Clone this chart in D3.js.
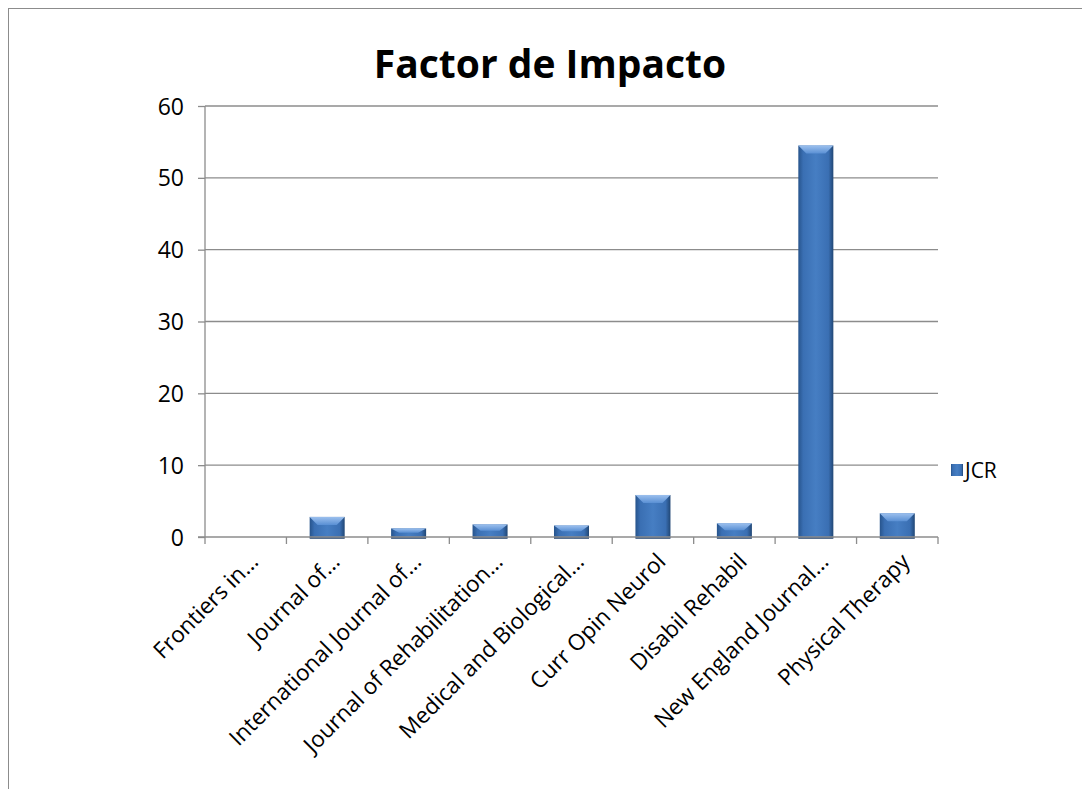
<!DOCTYPE html>
<html>
<head>
<meta charset="utf-8">
<script src="https://cdn.jsdelivr.net/npm/d3@7"></script>
<style>
  body { margin: 0; background: #fff; }
  text { font-family: "Open Sans", sans-serif; fill: #000; }
</style>
</head>
<body>
<div id="chart"></div>
<script>
const categorias = ["Frontiers in…", "Journal of…", "International Journal of…", "Journal of Rehabilitation…",
    "Medical and Biological…", "Curr Opin Neurol", "Disabil Rehabil", "New England Journal…", "Physical Therapy"]
const valores = [0, 2.8, 1.2, 1.75, 1.6, 5.85, 1.9, 54.5, 3.3]
const ticksY = [0, 10, 20, 30, 40, 50, 60]
const serie = "JCR"
const titulo = "Factor de Impacto"

const ancho = 1082
const alto = 789
const margen = { izquierdo: 205, derecho: 144, superior: 106, inferior: 252 }

const svg = d3.select("#chart").append("svg").attr("width", ancho).attr("height", alto)

// marco
svg.append("rect").attr("x", 8.5).attr("y", 8.5).attr("width", ancho).attr("height", alto)
    .attr("fill", "none").attr("stroke", "#8c8c8c").attr("stroke-width", 1)

const defs = svg.append("defs")
const grad = defs.append("linearGradient").attr("id", "gradBarra").attr("x1", 0).attr("x2", 1).attr("y1", 0).attr("y2", 0)
grad.append("stop").attr("offset", "0%").attr("stop-color", "#27548c")
grad.append("stop").attr("offset", "14%").attr("stop-color", "#3a6fb3")
grad.append("stop").attr("offset", "50%").attr("stop-color", "#467ec3")
grad.append("stop").attr("offset", "86%").attr("stop-color", "#3a6fb3")
grad.append("stop").attr("offset", "100%").attr("stop-color", "#214775")
const gradTop = defs.append("linearGradient").attr("id", "gradTope").attr("x1", 0).attr("x2", 0).attr("y1", 0).attr("y2", 1)
gradTop.append("stop").attr("offset", "0%").attr("stop-color", "#9cc0ee")
gradTop.append("stop").attr("offset", "100%").attr("stop-color", "#5a90d4")

const anchoPlot = ancho - margen.izquierdo - margen.derecho
const altoPlot = alto - margen.superior - margen.inferior

var x = d3.scaleBand().domain(categorias).range([0, anchoPlot]).paddingInner(0.57).paddingOuter(0.285)
var y = d3.scaleLinear().domain([0, 60]).range([altoPlot, 0])

const grupo = svg.append("g").attr("transform", `translate(${margen.izquierdo}, ${margen.superior})`)

// rejilla
grupo.append("g").selectAll("line").data(ticksY.filter(d => d > 0)).enter().append("line")
    .attr("x1", 0).attr("x2", anchoPlot)
    .attr("y1", d => y(d)).attr("y2", d => y(d))
    .attr("stroke", "#8c8c8c").attr("stroke-width", 1.3)

// eje Y
const ejeY = d3.axisLeft(y).tickValues(ticksY).tickSize(7).tickPadding(14)
const gY = grupo.append("g").call(ejeY)
gY.select(".domain").attr("stroke", "#8c8c8c").attr("stroke-width", 1.3).attr("d", `M0,${altoPlot}V0`)
gY.selectAll(".tick line").attr("stroke", "#8c8c8c").attr("stroke-width", 1.3)
gY.selectAll("text").style("font-size", "23px").attr("font-family", "Open Sans").attr("dy", "0.35em")

// barras
const bw = x.bandwidth()
const barras = grupo.append("g").selectAll("g").data(valores.map((v, i) => ({ cat: categorias[i], v })))
    .enter().append("g").filter(d => d.v > 0)
barras.append("rect")
    .attr("x", d => x(d.cat)).attr("y", d => y(d.v))
    .attr("width", bw).attr("height", d => altoPlot - y(d.v) + 1)
    .attr("fill", "url(#gradBarra)")
barras.append("polygon")
    .attr("points", d => {
        const h = Math.min(8, (altoPlot - y(d.v)) / 2)
        const x0 = x(d.cat), y0 = y(d.v)
        return `${x0},${y0} ${x0 + bw},${y0} ${x0 + bw - 8},${y0 + h} ${x0 + 8},${y0 + h}`
    })
    .attr("fill", "url(#gradTope)")
barras.append("line")
    .attr("x1", d => x(d.cat)).attr("x2", d => x(d.cat) + bw)
    .attr("y1", altoPlot + 1).attr("y2", altoPlot + 1)
    .attr("stroke", "#1f3f6a").attr("stroke-width", 1.5)

// eje X
const ejeX = d3.axisBottom(x).tickSize(0).tickFormat("")
const gX = grupo.append("g").attr("transform", `translate(0, ${altoPlot})`).call(ejeX)
gX.select(".domain").attr("stroke", "#8c8c8c").attr("stroke-width", 1.3).attr("d", `M-7,0H${anchoPlot}`)
const paso = anchoPlot / categorias.length
gX.append("g").selectAll("line").data(d3.range(categorias.length + 1)).enter().append("line")
    .attr("x1", i => i * paso).attr("x2", i => i * paso).attr("y1", 0).attr("y2", 7)
    .attr("stroke", "#8c8c8c").attr("stroke-width", 1.3)
gX.append("g").selectAll("text").data(categorias).enter().append("text")
    .attr("text-anchor", "end")
    .attr("transform", d => `translate(${x(d) + bw / 2 + 14}, 26) rotate(-45)`)
    .style("font-size", "22.5px")
    .text(d => d)

// titulo
svg.append("text").attr("x", 550).attr("y", 78).attr("text-anchor", "middle")
    .style("font-size", "39px").style("font-weight", "bold").text(titulo)

// leyenda
const ley = svg.append("g").attr("transform", "translate(951, 464)")
ley.append("rect").attr("width", 12).attr("height", 12).attr("fill", "url(#gradBarra)")
ley.append("text").attr("x", 14).attr("y", 14).style("font-size", "21px").text(serie)
</script>
</body>
</html>
